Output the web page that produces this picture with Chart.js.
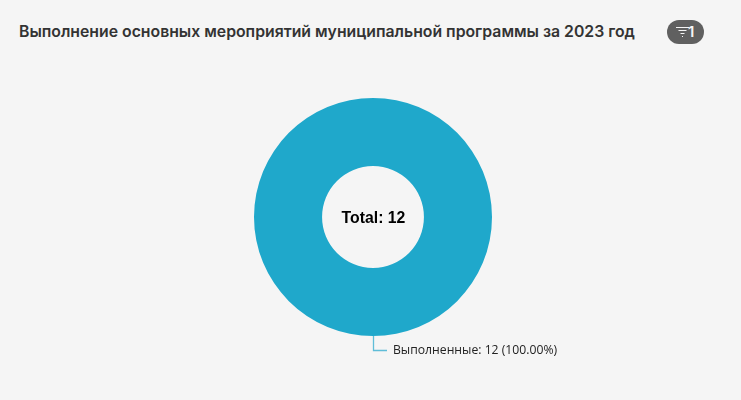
<!DOCTYPE html>
<html>
<head>
<meta charset="utf-8">
<script src="https://cdn.jsdelivr.net/npm/chart.js@4"></script>
<style>
  html, body { margin: 0; padding: 0; background: #f5f5f5; }
  #wrap { position: relative; width: 741px; height: 400px; overflow: hidden; }
  #title {
    position: absolute; left: 19px; top: 22px;
    font: 600 15.8px Inter, sans-serif; color: #333; white-space: nowrap;
  }
  #badge {
    position: absolute; left: 667px; top: 20px; width: 37px; height: 24px;
    border-radius: 12px; background: #606060; color: #f5f5f5;
    font: 600 15px Inter, sans-serif; line-height: 23px;
  }
  #badge svg { position: absolute; left: 9px; top: 6px; }
  #badge span { position: absolute; left: 21px; top: 0; }
  canvas { position: absolute; left: 0; top: 0; }
</style>
</head>
<body>
<div id="wrap">
  <div id="title">Выполнение основных мероприятий муниципальной программы за 2023 год</div>
  <div id="badge">
    <svg width="13" height="11" viewBox="0 0 13 11" fill="none" stroke="#f5f5f5" stroke-width="1">
      <path d="M0 1.5H13M2.5 4.5H10.5M4.5 7.5H8.5M6 10.5H7"/>
    </svg>
    <span>1</span>
  </div>
  <canvas id="chart" width="741" height="400"></canvas>
</div>
<script>
const categories = ["Выполненные"];
const seriesValues = [12];
const sliceColors = ["#1fa8cb"];

const total = seriesValues.reduce((a, b) => a + b, 0);

// текст в центре и выноска к сектору
const doughnutText = {
  id: "doughnutText",
  afterDatasetsDraw(chart) {
    const ctx = chart.ctx;
    const arcs = chart.getDatasetMeta(0).data;
    ctx.save();

    ctx.fillStyle = "#000";
    ctx.font = "bold 15.8px 'Liberation Sans', Arial, sans-serif";
    ctx.textAlign = "center";
    ctx.textBaseline = "middle";
    ctx.fillText("Total: " + total, arcs[0].x + 0.5, arcs[0].y + 2);

    arcs.forEach((arc, i) => {
      const mid = (arc.startAngle + arc.endAngle) / 2;
      const px = arc.x + Math.cos(mid) * arc.outerRadius;
      const py = arc.y + Math.sin(mid) * arc.outerRadius;
      ctx.strokeStyle = "#5fbdd8";
      ctx.lineWidth = 1.3;
      ctx.beginPath();
      ctx.moveTo(px + 0.5, py);
      ctx.lineTo(px + 0.5, py + 14.5);
      ctx.lineTo(px + 14, py + 14.5);
      ctx.stroke();

      const pct = (seriesValues[i] / total * 100).toFixed(2);
      ctx.fillStyle = "#222";
      ctx.font = "12.2px 'Open Sans', sans-serif";
      ctx.textAlign = "left";
      ctx.fillText(categories[i] + ": " + seriesValues[i] + " (" + pct + "%)", px + 20, py + 15);
    });
    ctx.restore();
  }
};

new Chart(document.getElementById("chart").getContext("2d"), {
  type: "doughnut",
  data: {
    labels: categories,
    datasets: [{
      data: seriesValues,
      backgroundColor: sliceColors,
      borderWidth: 0
    }]
  },
  options: {
    responsive: false,
    animation: false,
    cutout: "42.8%",
    layout: { padding: { left: 254, right: 249, top: 98, bottom: 64 } },
    plugins: {
      legend: { display: false },
      tooltip: { enabled: false }
    }
  },
  plugins: [doughnutText]
});
</script>
</body>
</html>
